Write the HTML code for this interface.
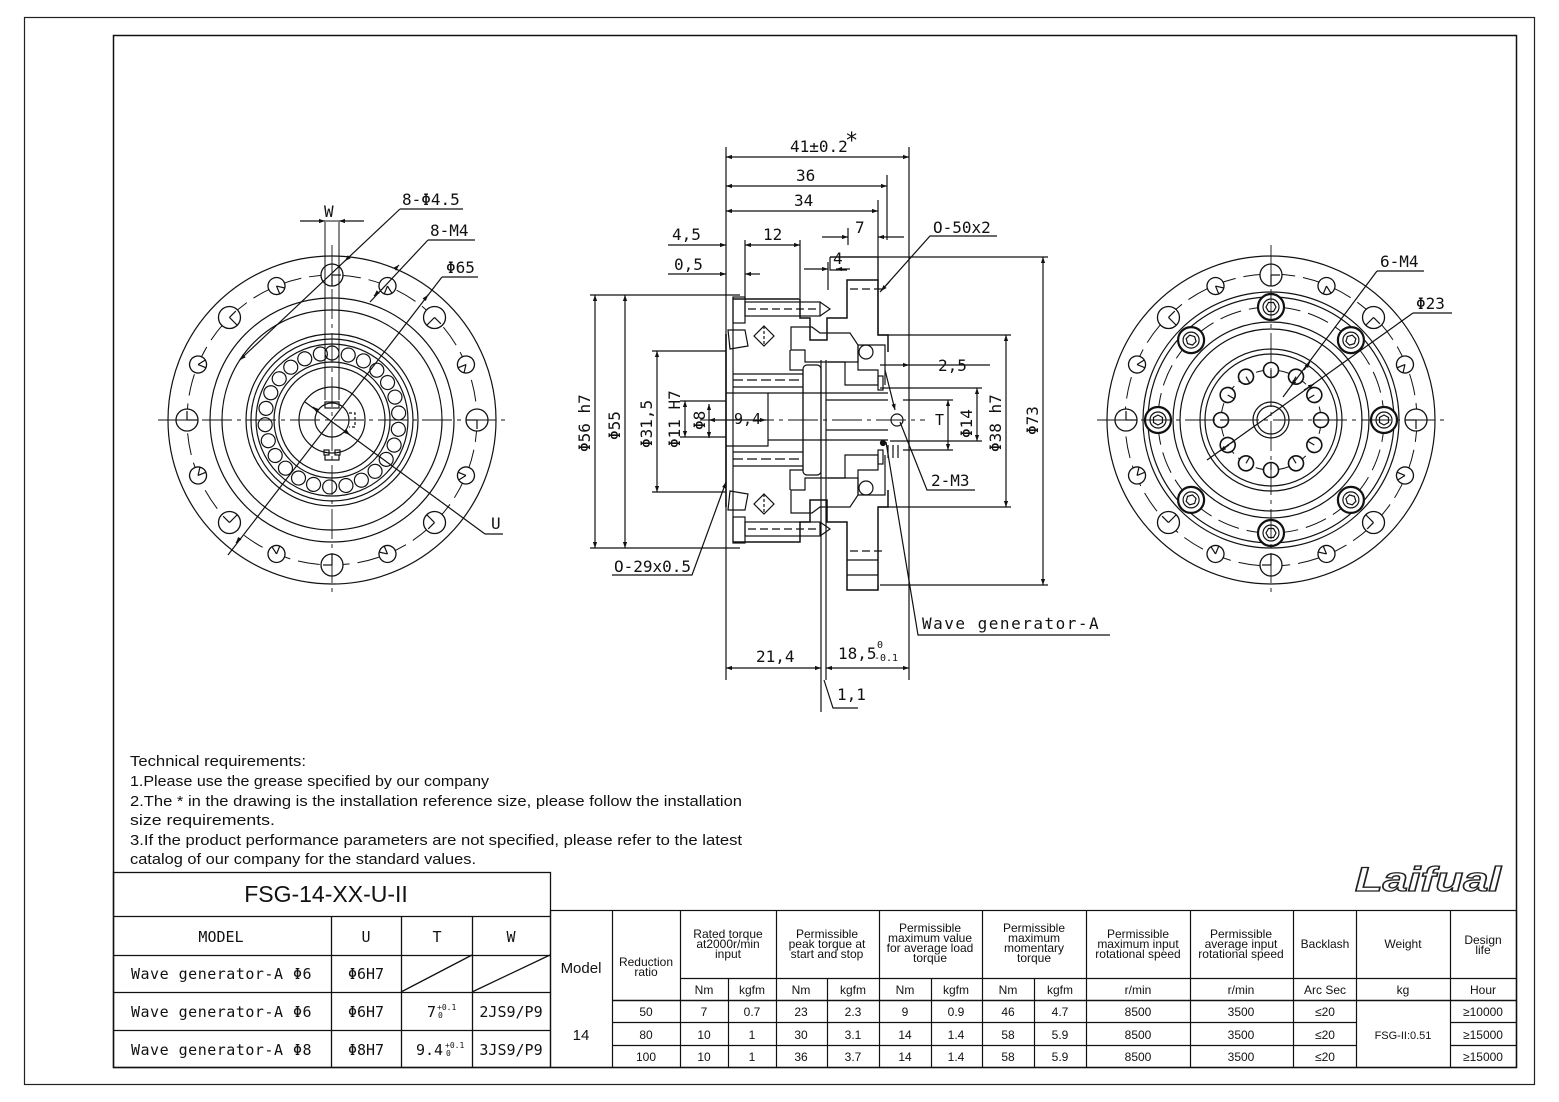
<!DOCTYPE html>
<html><head><meta charset="utf-8"><style>
html,body{margin:0;padding:0;background:#fff;}
svg{display:block;}
.t{font-family:"DejaVu Sans Mono","Liberation Mono",monospace;fill:#111;}
.c{font-family:"Liberation Sans",sans-serif;fill:#111;}
</style></head><body>
<svg width="1559" height="1102" viewBox="0 0 1559 1102" xmlns="http://www.w3.org/2000/svg">
<defs>
<marker id="a" viewBox="0 0 10 10" refX="10" refY="5" markerWidth="10" markerHeight="6" orient="auto-start-reverse" markerUnits="userSpaceOnUse"><path d="M0,1.5 L10,5 L0,8.5 z" fill="#111"/></marker>
<g id="lh"><circle cx="0" cy="-145" r="11" fill="#fff" stroke="#111" stroke-width="1.3"/><line x1="0" y1="-145" x2="0" y2="-134" stroke="#111"/><line x1="0" y1="-145" x2="9" y2="-145" stroke="#111"/></g>
<g id="sh"><circle cx="0" cy="-145" r="8.5" fill="#fff" stroke="#111" stroke-width="1.3"/><line x1="0" y1="-145" x2="0" y2="-136" stroke="#111"/><line x1="0" y1="-145" x2="7" y2="-140" stroke="#111"/></g>
<g id="ro"><circle cx="0" cy="-67" r="7" fill="none" stroke="#111" stroke-width="1.2"/></g>
<g id="cb"><circle cx="0" cy="-113" r="13" fill="#fff" stroke="#111" stroke-width="2.2"/><circle cx="0" cy="-113" r="8" fill="none" stroke="#111"/><polygon points="-5,-113 -2.5,-117.5 2.5,-117.5 5,-113 2.5,-108.5 -2.5,-108.5" fill="none" stroke="#111"/></g>
<g id="ih"><circle cx="0" cy="-50" r="7.5" fill="#fff" stroke="#111" stroke-width="1.6"/><line x1="0" y1="-50" x2="0" y2="-43" stroke="#111"/></g>
</defs>
<rect x="0" y="0" width="1559" height="1102" fill="#fff"/>
<rect x="24.5" y="17.5" width="1510" height="1067" fill="none" stroke="#222" stroke-width="1.2"/>
<rect x="113.5" y="35.5" width="1403" height="1032" fill="none" stroke="#111" stroke-width="1.5"/>

<!-- ================= LEFT VIEW ================= -->
<g stroke="#111" fill="none" stroke-width="1.2">
<circle cx="332" cy="420" r="164"/>
<circle cx="332" cy="420" r="145" stroke-dasharray="22 8" stroke-width="1"/>
<circle cx="332" cy="420" r="122"/>
<circle cx="332" cy="420" r="110"/>
<circle cx="332" cy="420" r="86"/>
<circle cx="332" cy="420" r="81"/>
<circle cx="332" cy="420" r="76"/>
<circle cx="332" cy="420" r="58"/>
<circle cx="332" cy="420" r="53"/>
<circle cx="332" cy="420" r="33"/>
<circle cx="332" cy="420" r="17"/>
<g transform="translate(332 420)">
<use href="#ro"/><use href="#ro" transform="rotate(14)"/><use href="#ro" transform="rotate(28)"/><use href="#ro" transform="rotate(42)"/><use href="#ro" transform="rotate(56)"/><use href="#ro" transform="rotate(70)"/><use href="#ro" transform="rotate(84)"/><use href="#ro" transform="rotate(98)"/><use href="#ro" transform="rotate(112)"/><use href="#ro" transform="rotate(126)"/><use href="#ro" transform="rotate(140)"/><use href="#ro" transform="rotate(154)"/><use href="#ro" transform="rotate(168)"/><use href="#ro" transform="rotate(182)"/><use href="#ro" transform="rotate(196)"/><use href="#ro" transform="rotate(210)"/><use href="#ro" transform="rotate(224)"/><use href="#ro" transform="rotate(238)"/><use href="#ro" transform="rotate(252)"/><use href="#ro" transform="rotate(266)"/><use href="#ro" transform="rotate(280)"/><use href="#ro" transform="rotate(294)"/><use href="#ro" transform="rotate(308)"/><use href="#ro" transform="rotate(322)"/><use href="#ro" transform="rotate(336)"/><use href="#ro" transform="rotate(350)"/>
<use href="#lh"/><use href="#lh" transform="rotate(45)"/><use href="#lh" transform="rotate(90)"/><use href="#lh" transform="rotate(135)"/><use href="#lh" transform="rotate(180)"/><use href="#lh" transform="rotate(225)"/><use href="#lh" transform="rotate(270)"/><use href="#lh" transform="rotate(315)"/>
<use href="#sh" transform="rotate(22.5)"/><use href="#sh" transform="rotate(67.5)"/><use href="#sh" transform="rotate(112.5)"/><use href="#sh" transform="rotate(157.5)"/><use href="#sh" transform="rotate(202.5)"/><use href="#sh" transform="rotate(247.5)"/><use href="#sh" transform="rotate(292.5)"/><use href="#sh" transform="rotate(337.5)"/>
</g>
<rect x="325" y="402" width="14" height="6"/>
<path d="M325,455 L325,460 L339,460 L339,455" />
<rect x="324" y="450" width="5" height="5"/><rect x="335" y="450" width="5" height="5"/>
<path d="M349,413 L355,413 L355,427 L349,427" stroke-dasharray="3 2"/>
<line x1="158" y1="420" x2="507" y2="420" stroke-dasharray="30 5 4 5" stroke-width="0.9"/>
<line x1="332" y1="245" x2="332" y2="595" stroke-dasharray="30 5 4 5" stroke-width="0.9"/>
<line x1="325" y1="222" x2="325" y2="400" stroke-width="1"/>
<line x1="339" y1="222" x2="339" y2="400" stroke-width="1"/>
<line x1="300" y1="221" x2="364" y2="221" stroke-width="1"/>
<line x1="300" y1="221" x2="325" y2="221" marker-end="url(#a)"/>
<line x1="364" y1="221" x2="339" y2="221" marker-end="url(#a)"/>
<polyline points="400,209 463,209"/><line x1="400" y1="209" x2="245" y2="355"/><line x1="350" y1="256" x2="345" y2="261" marker-end="url(#a)"/>
<line x1="245" y1="355" x2="240" y2="360" marker-end="url(#a)"/>
<polyline points="428,240 475,240"/><line x1="428" y1="240" x2="370" y2="302"/><line x1="395" y1="269" x2="399" y2="265" marker-end="url(#a)"/><line x1="378" y1="292" x2="374" y2="296" marker-end="url(#a)"/>
<polyline points="442,277 478,277"/><line x1="442" y1="277" x2="228" y2="555"/><line x1="424" y1="300" x2="428" y2="295" marker-end="url(#a)"/><line x1="240" y1="538" x2="236" y2="543" marker-end="url(#a)"/>
<polyline points="485,534 503,534"/><line x1="485" y1="534" x2="305" y2="402"/><line x1="318" y1="411" x2="313" y2="407" marker-end="url(#a)"/><line x1="345" y1="431" x2="350" y2="435" marker-end="url(#a)"/>
</g>
<g class="t" font-size="16">
<text x="324" y="217">W</text>
<text x="402" y="205">8-Φ4.5</text>
<text x="430" y="236">8-M4</text>
<text x="446" y="273">Φ65</text>
<text x="491" y="529">U</text>
</g>

<!-- ================= RIGHT VIEW ================= -->
<g stroke="#111" fill="none" stroke-width="1.2">
<circle cx="1271" cy="420" r="164"/>
<circle cx="1271" cy="420" r="146" stroke-dasharray="22 8" stroke-width="1"/>
<circle cx="1271" cy="420" r="128"/>
<circle cx="1271" cy="420" r="123"/>
<circle cx="1271" cy="420" r="113" stroke-dasharray="22 8" stroke-width="1"/>
<circle cx="1271" cy="420" r="98"/>
<circle cx="1271" cy="420" r="91"/>
<circle cx="1271" cy="420" r="71"/>
<circle cx="1271" cy="420" r="66"/>
<circle cx="1271" cy="420" r="50" stroke-dasharray="14 6" stroke-width="1"/>
<circle cx="1271" cy="420" r="18"/>
<circle cx="1271" cy="420" r="14"/>
<g transform="translate(1271 420)">
<use href="#lh"/><use href="#lh" transform="rotate(45)"/><use href="#lh" transform="rotate(90)"/><use href="#lh" transform="rotate(135)"/><use href="#lh" transform="rotate(180)"/><use href="#lh" transform="rotate(225)"/><use href="#lh" transform="rotate(270)"/><use href="#lh" transform="rotate(315)"/>
<use href="#sh" transform="rotate(22.5)"/><use href="#sh" transform="rotate(67.5)"/><use href="#sh" transform="rotate(112.5)"/><use href="#sh" transform="rotate(157.5)"/><use href="#sh" transform="rotate(202.5)"/><use href="#sh" transform="rotate(247.5)"/><use href="#sh" transform="rotate(292.5)"/><use href="#sh" transform="rotate(337.5)"/>
<use href="#cb"/><use href="#cb" transform="rotate(45)"/><use href="#cb" transform="rotate(90)"/><use href="#cb" transform="rotate(135)"/><use href="#cb" transform="rotate(180)"/><use href="#cb" transform="rotate(225)"/><use href="#cb" transform="rotate(270)"/><use href="#cb" transform="rotate(315)"/>
<use href="#ih"/><use href="#ih" transform="rotate(30)"/><use href="#ih" transform="rotate(60)"/><use href="#ih" transform="rotate(90)"/><use href="#ih" transform="rotate(120)"/><use href="#ih" transform="rotate(150)"/><use href="#ih" transform="rotate(180)"/><use href="#ih" transform="rotate(210)"/><use href="#ih" transform="rotate(240)"/><use href="#ih" transform="rotate(270)"/><use href="#ih" transform="rotate(300)"/><use href="#ih" transform="rotate(330)"/>
</g>
<line x1="1097" y1="420" x2="1445" y2="420" stroke-dasharray="30 5 4 5" stroke-width="0.9"/>
<line x1="1271" y1="245" x2="1271" y2="595" stroke-dasharray="30 5 4 5" stroke-width="0.9"/>
<polyline points="1377,271 1424,271"/><line x1="1377" y1="271" x2="1283" y2="397"/><line x1="1304" y1="370" x2="1310" y2="362" marker-end="url(#a)"/><line x1="1297" y1="378" x2="1291" y2="386" marker-end="url(#a)"/>
<polyline points="1413,313 1452,313"/><line x1="1413" y1="313" x2="1207" y2="460"/><line x1="1304" y1="390" x2="1314" y2="384" marker-end="url(#a)"/><line x1="1229" y1="445" x2="1220" y2="451" marker-end="url(#a)"/>
</g>
<g class="t" font-size="16">
<text x="1380" y="267">6-M4</text>
<text x="1416" y="309">Φ23</text>
</g>

<!-- ================= SECTION VIEW ================= -->
<g stroke="#111" fill="none" stroke-width="1.2">
<line x1="726" y1="147" x2="726" y2="680"/>
<line x1="909" y1="147" x2="909" y2="680"/>
<line x1="887" y1="175" x2="887" y2="240"/>
<line x1="878" y1="200" x2="878" y2="335"/>
<line x1="848" y1="228" x2="848" y2="245"/>
<line x1="745" y1="240" x2="745" y2="300"/>
<line x1="800" y1="240" x2="800" y2="298"/>
<line x1="828" y1="262" x2="828" y2="290"/>
<line x1="821" y1="360" x2="821" y2="712"/>
<line x1="826" y1="360" x2="826" y2="680"/>
<line x1="726" y1="157" x2="909" y2="157" marker-start="url(#a)" marker-end="url(#a)"/>
<line x1="726" y1="186" x2="887" y2="186" marker-start="url(#a)" marker-end="url(#a)"/>
<line x1="726" y1="211" x2="878" y2="211" marker-start="url(#a)" marker-end="url(#a)"/>
<line x1="822" y1="237" x2="848" y2="237" marker-end="url(#a)"/><line x1="904" y1="237" x2="878" y2="237" marker-end="url(#a)"/>
<line x1="668" y1="245" x2="726" y2="245" marker-end="url(#a)"/>
<line x1="745" y1="245" x2="800" y2="245" marker-start="url(#a)" marker-end="url(#a)"/>
<line x1="668" y1="274" x2="726" y2="274" marker-end="url(#a)"/><line x1="760" y1="274" x2="745" y2="274" marker-end="url(#a)"/>
<line x1="804" y1="269" x2="828" y2="269" marker-end="url(#a)"/><line x1="850" y1="269" x2="836" y2="269" marker-end="url(#a)"/>
<line x1="726" y1="668" x2="821" y2="668" marker-start="url(#a)" marker-end="url(#a)"/>
<line x1="826" y1="668" x2="909" y2="668" marker-start="url(#a)" marker-end="url(#a)"/>
<polyline points="824,680 833,708 858,708"/>
<line x1="880" y1="365" x2="909" y2="365" marker-end="url(#a)"/>
<line x1="990" y1="365" x2="909" y2="365"/>
<line x1="590" y1="295" x2="740" y2="295"/><line x1="590" y1="548" x2="740" y2="548"/>
<line x1="595" y1="295" x2="595" y2="548" marker-start="url(#a)" marker-end="url(#a)"/>
<line x1="625" y1="295" x2="625" y2="548" marker-start="url(#a)" marker-end="url(#a)"/>
<line x1="652" y1="351" x2="726" y2="351"/><line x1="652" y1="492" x2="726" y2="492"/>
<line x1="657" y1="351" x2="657" y2="492" marker-start="url(#a)" marker-end="url(#a)"/>
<line x1="680" y1="401" x2="726" y2="401"/><line x1="680" y1="437" x2="726" y2="437"/>
<line x1="685" y1="401" x2="685" y2="437" marker-start="url(#a)" marker-end="url(#a)"/>
<line x1="709" y1="404" x2="709" y2="438" marker-start="url(#a)" marker-end="url(#a)"/>
<line x1="709" y1="420" x2="766" y2="420" marker-start="url(#a)" marker-end="url(#a)"/>
<line x1="880" y1="388" x2="982" y2="388"/><line x1="890" y1="441" x2="982" y2="441"/>
<line x1="977" y1="388" x2="977" y2="441" marker-start="url(#a)" marker-end="url(#a)"/>
<line x1="903" y1="400" x2="953" y2="400"/><line x1="903" y1="450" x2="953" y2="450"/>
<line x1="948" y1="400" x2="948" y2="450" marker-start="url(#a)" marker-end="url(#a)"/>
<line x1="878" y1="335" x2="1011" y2="335"/><line x1="878" y1="507" x2="1011" y2="507"/>
<line x1="1006" y1="335" x2="1006" y2="507" marker-start="url(#a)" marker-end="url(#a)"/>
<line x1="830" y1="257" x2="1048" y2="257"/><line x1="880" y1="585" x2="1048" y2="585"/>
<line x1="1043" y1="257" x2="1043" y2="585" marker-start="url(#a)" marker-end="url(#a)"/>
<polyline points="997,236 930,236 880,292"/><line x1="890" y1="281" x2="881" y2="291" marker-end="url(#a)"/>
<polyline points="975,490 927,490 900,422"/><line x1="885" y1="370" x2="895" y2="410" marker-end="url(#a)"/>
<polyline points="1110,635 918,635 886,442"/>
<polyline points="612,575 692,575 726,482"/><line x1="724" y1="488" x2="726" y2="482" marker-end="url(#a)"/>
<line x1="700" y1="420" x2="925" y2="420" stroke-dasharray="30 5 4 5" stroke-width="0.9"/>
<path d="M726,334 L726,507" stroke-width="1.6"/>
<path d="M733,297 L733,543" stroke-width="1.2"/>
<path d="M733,299 L800,299 L800,318 L810,318 L810,340 L827,340 L827,318 L847,318 L847,280 L878,280 L878,335 L888,335 L888,352" stroke-width="1.5"/>
<path d="M733,542 L800,542 L800,522 L810,522 L810,500 L827,500 L827,522 L847,522 L847,590 L878,590 L878,507 L888,507 L888,490" stroke-width="1.5"/>
<path d="M830,257 L878,257 L878,280 M830,257 L830,270 L847,270"/>
<path d="M847,560 L878,560 M847,575 L878,575 M878,585 L878,590"/>
<rect x="733" y="297" width="12" height="26"/><rect x="745" y="302" width="75" height="14"/><path d="M820,302 L830,309 L820,316"/>
<rect x="733" y="517" width="12" height="26"/><rect x="745" y="522" width="75" height="14"/><path d="M820,522 L830,529 L820,536"/>
<line x1="748" y1="309" x2="818" y2="309" stroke-dasharray="8 4"/><line x1="748" y1="529" x2="818" y2="529" stroke-dasharray="8 4"/>
<path d="M728,330 L745,330 L748,346 L730,349 Z"/><path d="M728,510 L745,510 L748,494 L730,491 Z"/>
<path d="M764,326 L774,336 L764,346 L754,336 Z"/><path d="M764,494 L774,504 L764,514 L754,504 Z"/>
<line x1="764" y1="326" x2="764" y2="346" stroke-dasharray="3 2"/><line x1="764" y1="494" x2="764" y2="514" stroke-dasharray="3 2"/>
<path d="M791,327 L791,350 L805,350 L805,362 L858,362 L858,345 L850,333 L820,333 L812,327 Z"/>
<path d="M791,513 L791,490 L805,490 L805,478 L858,478 L858,495 L850,507 L820,507 L812,513 Z"/>
<path d="M790,350 L790,370 L803,370 L803,470 L790,470 L790,490"/>
<rect x="803" y="365" width="18" height="110" rx="4"/>
<path d="M733,374 L803,374 M733,387 L803,387 M733,452 L803,452 M733,466 L803,466"/>
<line x1="733" y1="380" x2="800" y2="380" stroke-dasharray="10 4"/><line x1="733" y1="459" x2="800" y2="459" stroke-dasharray="10 4"/>
<path d="M726,393 L768,393 L768,446 L726,446"/>
<line x1="768" y1="393" x2="888" y2="393"/><line x1="768" y1="440" x2="888" y2="440"/>
<line x1="826" y1="400" x2="888" y2="400"/><line x1="826" y1="430" x2="888" y2="430"/>
<path d="M828,362 L845,362 L845,385 L878,385 L878,370 L858,370 L858,345 L885,345 L885,385"/>
<path d="M828,478 L845,478 L845,455 L878,455 L878,470 L858,470 L858,495 L885,495 L885,455"/>
<circle cx="866" cy="352" r="7"/><circle cx="866" cy="488" r="7"/>
<rect x="878" y="376" width="5" height="14"/><rect x="878" y="450" width="5" height="14"/>
<circle cx="897" cy="420" r="6"/>
<circle cx="883" cy="443" r="2.5" fill="#111"/>
<path d="M888,445 L888,458 M893,445 L893,458 M898,445 L898,458"/>
<line x1="850" y1="551" x2="884" y2="551" stroke-dasharray="8 4"/>
<line x1="850" y1="289" x2="884" y2="289" stroke-dasharray="8 4"/>
</g>
<g class="t" font-size="16">
<text x="790" y="152">41±0.2</text><text x="845" y="148" font-size="22">*</text>
<text x="796" y="181">36</text>
<text x="794" y="206">34</text>
<text x="855" y="233">7</text>
<text x="672" y="240">4,5</text>
<text x="763" y="240">12</text>
<text x="674" y="270">0,5</text>
<text x="833" y="264">4</text>
<text x="933" y="233">O-50x2</text>
<text x="938" y="371">2,5</text>
<text x="931" y="486">2-M3</text>
<text x="922" y="629" letter-spacing="1.5">Wave generator-A</text>
<text x="614" y="572">O-29x0.5</text>
<text x="756" y="662">21,4</text>
<text x="838" y="659">18,5</text><text x="877" y="648" font-size="10">0</text><text x="874" y="661" font-size="10">-0.1</text>
<text x="837" y="700">1,1</text>
<text x="734" y="424" font-size="15">9,4</text>
<text x="935" y="425" font-size="15">T</text>
<text transform="translate(590 452) rotate(-90)">Φ56 h7</text>
<text transform="translate(620 440) rotate(-90)">Φ55</text>
<text transform="translate(652 448) rotate(-90)">Φ31,5</text>
<text transform="translate(680 448) rotate(-90)">Φ11 H7</text>
<text transform="translate(705 430) rotate(-90)">Φ8</text>
<text transform="translate(972 438) rotate(-90)">Φ14</text>
<text transform="translate(1001 452) rotate(-90)">Φ38 h7</text>
<text transform="translate(1038 435) rotate(-90)">Φ73</text>
</g>

<!-- ================= TEXT ================= -->
<g class="c" font-size="15">
<text x="130" y="766" textLength="176" lengthAdjust="spacingAndGlyphs">Technical requirements:</text>
<text x="130" y="786" textLength="359" lengthAdjust="spacingAndGlyphs">1.Please use the grease specified by our company</text>
<text x="130" y="806" textLength="612" lengthAdjust="spacingAndGlyphs">2.The * in the drawing is the installation reference size, please follow the installation</text>
<text x="130" y="825" textLength="145" lengthAdjust="spacingAndGlyphs">size requirements.</text>
<text x="130" y="845" textLength="612" lengthAdjust="spacingAndGlyphs">3.If the product performance parameters are not specified, please refer to the latest</text>
<text x="130" y="864" textLength="346" lengthAdjust="spacingAndGlyphs">catalog of our company for the standard values.</text>
</g>
<text x="1355" y="891" font-family="Liberation Sans,sans-serif" font-style="italic" font-weight="bold" font-size="34" fill="#fff" stroke="#222" stroke-width="1.3" textLength="146" lengthAdjust="spacingAndGlyphs">Laifual</text>

<!-- ================= LEFT TABLE ================= -->
<g stroke="#111" fill="none" stroke-width="1.3">
<rect x="113.5" y="872.5" width="437" height="195"/>
<line x1="113" y1="916.5" x2="550" y2="916.5"/>
<line x1="113" y1="955.5" x2="550" y2="955.5"/>
<line x1="113" y1="992.5" x2="550" y2="992.5"/>
<line x1="113" y1="1030.5" x2="550" y2="1030.5"/>
<line x1="331.5" y1="916" x2="331.5" y2="1068"/>
<line x1="401.5" y1="916" x2="401.5" y2="1068"/>
<line x1="472.5" y1="916" x2="472.5" y2="1068"/>
<line x1="401" y1="992" x2="472" y2="955"/>
<line x1="472" y1="992" x2="550" y2="955"/>
</g>
<text x="326" y="902" class="c" font-size="23" text-anchor="middle">FSG-14-XX-U-II</text>
<g class="t" font-size="15">
<text x="221" y="942" text-anchor="middle">MODEL</text>
<text x="366" y="942" text-anchor="middle">U</text>
<text x="437" y="942" text-anchor="middle">T</text>
<text x="511" y="942" text-anchor="middle">W</text>
<text x="131" y="979" letter-spacing="0.5">Wave generator-A Φ6</text>
<text x="131" y="1017" letter-spacing="0.5">Wave generator-A Φ6</text>
<text x="131" y="1055" letter-spacing="0.5">Wave generator-A Φ8</text>
<text x="366" y="979" text-anchor="middle">Φ6H7</text>
<text x="366" y="1017" text-anchor="middle">Φ6H7</text>
<text x="366" y="1055" text-anchor="middle">Φ8H7</text>
<text x="427" y="1017">7</text><text x="437" y="1010" font-size="8">+0.1</text><text x="438" y="1018" font-size="8">0</text>
<text x="416" y="1055">9.4</text><text x="445" y="1048" font-size="8">+0.1</text><text x="446" y="1056" font-size="8">0</text>
<text x="511" y="1017" text-anchor="middle">2JS9/P9</text>
<text x="511" y="1055" text-anchor="middle">3JS9/P9</text>
</g>

<!-- ================= RIGHT TABLE ================= -->
<g stroke="#111" fill="none" stroke-width="1.2">
<rect x="550.5" y="910.5" width="966" height="157"/>
<line x1="680" y1="978.5" x2="1517" y2="978.5"/>
<line x1="612" y1="1000.5" x2="1517" y2="1000.5" stroke-width="1.6"/>
<line x1="612" y1="1022.5" x2="1356" y2="1022.5"/><line x1="1450" y1="1022.5" x2="1517" y2="1022.5"/>
<line x1="612" y1="1045.5" x2="1356" y2="1045.5"/><line x1="1450" y1="1045.5" x2="1517" y2="1045.5"/>
<line x1="612.5" y1="910" x2="612.5" y2="1068"/>
<line x1="680.5" y1="910" x2="680.5" y2="1068"/>
<line x1="728.5" y1="978" x2="728.5" y2="1068"/>
<line x1="776.5" y1="910" x2="776.5" y2="1068"/>
<line x1="827.5" y1="978" x2="827.5" y2="1068"/>
<line x1="879.5" y1="910" x2="879.5" y2="1068"/>
<line x1="931.5" y1="978" x2="931.5" y2="1068"/>
<line x1="982.5" y1="910" x2="982.5" y2="1068"/>
<line x1="1034.5" y1="978" x2="1034.5" y2="1068"/>
<line x1="1086.5" y1="910" x2="1086.5" y2="1068"/>
<line x1="1190.5" y1="910" x2="1190.5" y2="1068"/>
<line x1="1293.5" y1="910" x2="1293.5" y2="1068"/>
<line x1="1356.5" y1="910" x2="1356.5" y2="1068"/>
<line x1="1450.5" y1="910" x2="1450.5" y2="1068"/>
</g>
<g class="c" font-size="12" text-anchor="middle">
<text x="581" y="973" font-size="15">Model</text>
<text x="646" y="966">Reduction</text><text x="646" y="976">ratio</text>
<text x="728" y="938">Rated torque</text><text x="728" y="948">at2000r/min</text><text x="728" y="958">input</text>
<text x="827" y="938">Permissible</text><text x="827" y="948">peak torque at</text><text x="827" y="958">start and stop</text>
<text x="930" y="932">Permissible</text><text x="930" y="942">maximum value</text><text x="930" y="952">for average load</text><text x="930" y="962">torque</text>
<text x="1034" y="932">Permissible</text><text x="1034" y="942">maximum</text><text x="1034" y="952">momentary</text><text x="1034" y="962">torque</text>
<text x="1138" y="938">Permissible</text><text x="1138" y="948">maximum input</text><text x="1138" y="958">rotational speed</text>
<text x="1241" y="938">Permissible</text><text x="1241" y="948">average input</text><text x="1241" y="958">rotational speed</text>
<text x="1325" y="948">Backlash</text>
<text x="1403" y="948">Weight</text>
<text x="1483" y="944">Design</text><text x="1483" y="954">life</text>
<text x="704" y="994">Nm</text><text x="752" y="994">kgfm</text>
<text x="801" y="994">Nm</text><text x="853" y="994">kgfm</text>
<text x="905" y="994">Nm</text><text x="956" y="994">kgfm</text>
<text x="1008" y="994">Nm</text><text x="1060" y="994">kgfm</text>
<text x="1138" y="994">r/min</text><text x="1241" y="994">r/min</text>
<text x="1325" y="994">Arc Sec</text><text x="1403" y="994">kg</text><text x="1483" y="994">Hour</text>
<text x="581" y="1040" font-size="15">14</text>
<text x="646" y="1016">50</text><text x="704" y="1016">7</text><text x="752" y="1016">0.7</text><text x="801" y="1016">23</text><text x="853" y="1016">2.3</text><text x="905" y="1016">9</text><text x="956" y="1016">0.9</text><text x="1008" y="1016">46</text><text x="1060" y="1016">4.7</text><text x="1138" y="1016">8500</text><text x="1241" y="1016">3500</text><text x="1325" y="1016">≤20</text><text x="1483" y="1016">≥10000</text>
<text x="646" y="1039">80</text><text x="704" y="1039">10</text><text x="752" y="1039">1</text><text x="801" y="1039">30</text><text x="853" y="1039">3.1</text><text x="905" y="1039">14</text><text x="956" y="1039">1.4</text><text x="1008" y="1039">58</text><text x="1060" y="1039">5.9</text><text x="1138" y="1039">8500</text><text x="1241" y="1039">3500</text><text x="1325" y="1039">≤20</text><text x="1403" y="1039" font-size="11">FSG-II:0.51</text><text x="1483" y="1039">≥15000</text>
<text x="646" y="1061">100</text><text x="704" y="1061">10</text><text x="752" y="1061">1</text><text x="801" y="1061">36</text><text x="853" y="1061">3.7</text><text x="905" y="1061">14</text><text x="956" y="1061">1.4</text><text x="1008" y="1061">58</text><text x="1060" y="1061">5.9</text><text x="1138" y="1061">8500</text><text x="1241" y="1061">3500</text><text x="1325" y="1061">≤20</text><text x="1483" y="1061">≥15000</text>
</g>
</svg>
</body></html>
